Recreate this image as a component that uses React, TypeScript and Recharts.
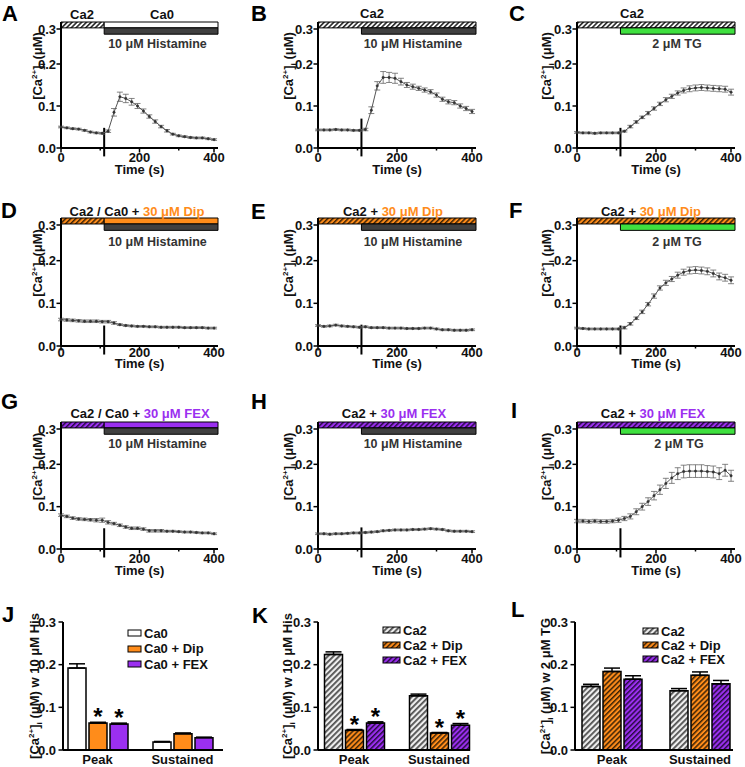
import React from "react";
import {
  LineChart,
  Line,
  BarChart,
  Bar,
  XAxis,
  YAxis,
  ErrorBar,
  ReferenceArea,
  ReferenceLine,
  Label,
  LabelList,
  Legend,
} from "recharts";

const FONT = "'Liberation Sans', Arial, Helvetica, sans-serif";

// sampling times (s) for the traces
const TIME = [0, 15, 30, 45, 60, 75, 90, 105, 120, 135, 150, 165, 180, 195, 210, 225, 240, 255, 270, 285, 300, 315, 330, 345, 360, 375, 390];
const STIM_ON = 110;
const T_MAX = 400;
const X_TICKS = [0, 100, 200, 300, 400];
const Y_TICKS_LINE = [0, 0.05, 0.1, 0.15, 0.2, 0.25, 0.3];
const Y_TICKS_BAR = [0, 0.1, 0.2, 0.3];

// [Ca2+]i traces (uM) and SEM
const A_CA = [0.05, 0.048, 0.046, 0.045, 0.042, 0.038, 0.036, 0.035, 0.04, 0.085, 0.122, 0.118, 0.11, 0.1, 0.088, 0.075, 0.063, 0.051, 0.041, 0.033, 0.029, 0.027, 0.025, 0.024, 0.024, 0.022, 0.02];
const A_SEM = [0.002, 0.002, 0.002, 0.002, 0.002, 0.002, 0.002, 0.002, 0.003, 0.009, 0.011, 0.01, 0.008, 0.006, 0.005, 0.004, 0.004, 0.003, 0.003, 0.002, 0.002, 0.002, 0.002, 0.002, 0.002, 0.002, 0.002];
const B_CA = [0.043, 0.043, 0.043, 0.044, 0.043, 0.043, 0.042, 0.042, 0.044, 0.09, 0.148, 0.168, 0.168, 0.166, 0.158, 0.15, 0.146, 0.142, 0.138, 0.134, 0.126, 0.116, 0.11, 0.108, 0.1, 0.094, 0.087];
const B_SEM = [0.002, 0.002, 0.002, 0.002, 0.002, 0.002, 0.002, 0.002, 0.003, 0.008, 0.01, 0.014, 0.012, 0.012, 0.008, 0.006, 0.006, 0.005, 0.005, 0.005, 0.005, 0.005, 0.005, 0.005, 0.005, 0.005, 0.005];
const C_CA = [0.037, 0.036, 0.036, 0.035, 0.036, 0.036, 0.036, 0.036, 0.04, 0.051, 0.062, 0.073, 0.083, 0.094, 0.105, 0.115, 0.123, 0.131, 0.137, 0.141, 0.143, 0.144, 0.143, 0.142, 0.141, 0.14, 0.133];
const C_SEM = [0.002, 0.002, 0.002, 0.002, 0.002, 0.002, 0.002, 0.002, 0.002, 0.003, 0.003, 0.003, 0.004, 0.004, 0.004, 0.005, 0.005, 0.005, 0.006, 0.007, 0.007, 0.007, 0.007, 0.007, 0.007, 0.007, 0.007];
const D_CA = [0.062, 0.061, 0.06, 0.059, 0.058, 0.058, 0.058, 0.057, 0.057, 0.054, 0.05, 0.048, 0.047, 0.046, 0.046, 0.045, 0.045, 0.044, 0.044, 0.044, 0.044, 0.043, 0.043, 0.043, 0.043, 0.042, 0.042];
const D_SEM = [0.003, 0.003, 0.003, 0.003, 0.003, 0.003, 0.003, 0.003, 0.003, 0.003, 0.002, 0.002, 0.002, 0.002, 0.002, 0.002, 0.002, 0.002, 0.002, 0.002, 0.002, 0.002, 0.002, 0.002, 0.002, 0.002, 0.002];
const E_CA = [0.048, 0.046, 0.047, 0.049, 0.047, 0.046, 0.045, 0.044, 0.045, 0.043, 0.043, 0.043, 0.042, 0.042, 0.042, 0.041, 0.041, 0.041, 0.042, 0.042, 0.04, 0.038, 0.038, 0.037, 0.037, 0.037, 0.038];
const E_SEM = [0.002, 0.002, 0.002, 0.002, 0.002, 0.002, 0.002, 0.002, 0.002, 0.002, 0.002, 0.002, 0.002, 0.002, 0.002, 0.002, 0.002, 0.002, 0.002, 0.002, 0.002, 0.002, 0.002, 0.002, 0.002, 0.002, 0.002];
const F_CA = [0.042, 0.041, 0.04, 0.04, 0.04, 0.04, 0.04, 0.04, 0.043, 0.052, 0.065, 0.08, 0.098, 0.117, 0.136, 0.148, 0.157, 0.166, 0.173, 0.177, 0.178, 0.177, 0.175, 0.17, 0.163, 0.16, 0.154];
const F_SEM = [0.002, 0.002, 0.002, 0.002, 0.002, 0.002, 0.002, 0.002, 0.003, 0.003, 0.003, 0.004, 0.004, 0.005, 0.005, 0.006, 0.006, 0.007, 0.007, 0.008, 0.008, 0.008, 0.008, 0.008, 0.008, 0.008, 0.008];
const G_CA = [0.08, 0.077, 0.073, 0.071, 0.07, 0.069, 0.068, 0.068, 0.063, 0.06, 0.056, 0.052, 0.049, 0.049, 0.047, 0.043, 0.043, 0.043, 0.042, 0.042, 0.041, 0.04, 0.04, 0.039, 0.038, 0.038, 0.036];
const G_SEM = [0.003, 0.003, 0.003, 0.003, 0.003, 0.003, 0.004, 0.005, 0.004, 0.003, 0.003, 0.003, 0.003, 0.003, 0.003, 0.003, 0.003, 0.003, 0.002, 0.002, 0.002, 0.002, 0.002, 0.002, 0.002, 0.002, 0.002];
const H_CA = [0.036, 0.036, 0.035, 0.036, 0.036, 0.037, 0.038, 0.038, 0.039, 0.04, 0.041, 0.043, 0.044, 0.045, 0.045, 0.045, 0.046, 0.046, 0.047, 0.048, 0.047, 0.046, 0.043, 0.042, 0.042, 0.042, 0.041];
const H_SEM = [0.002, 0.002, 0.002, 0.002, 0.002, 0.002, 0.002, 0.002, 0.002, 0.002, 0.002, 0.002, 0.002, 0.002, 0.002, 0.002, 0.002, 0.002, 0.002, 0.002, 0.002, 0.002, 0.002, 0.002, 0.002, 0.002, 0.002];
const I_CA = [0.066, 0.066, 0.065, 0.066, 0.065, 0.065, 0.066, 0.068, 0.072, 0.077, 0.088, 0.1, 0.112, 0.126, 0.14, 0.155, 0.168, 0.178, 0.183, 0.184, 0.184, 0.184, 0.183, 0.182, 0.178, 0.186, 0.173];
const I_SEM = [0.004, 0.004, 0.004, 0.004, 0.004, 0.004, 0.004, 0.005, 0.005, 0.006, 0.007, 0.008, 0.009, 0.01, 0.011, 0.012, 0.013, 0.014, 0.015, 0.015, 0.015, 0.015, 0.014, 0.014, 0.014, 0.014, 0.013];

// summary bars
const BAR_GROUPS = ["Peak", "Sustained"];
const J_CA0 = [0.192, 0.019];
const J_CA0_SEM = [0.01, 0.001];
const J_DIP = [0.063, 0.038];
const J_DIP_SEM = [0.002, 0.002];
const J_FEX = [0.061, 0.029];
const J_FEX_SEM = [0.002, 0.001];
const K_CA2 = [0.224, 0.127];
const K_CA2_SEM = [0.006, 0.004];
const K_DIP = [0.046, 0.04];
const K_DIP_SEM = [0.002, 0.001];
const K_FEX = [0.063, 0.058];
const K_FEX_SEM = [0.003, 0.004];
const L_CA2 = [0.149, 0.139];
const L_CA2_SEM = [0.005, 0.005];
const L_DIP = [0.184, 0.175];
const L_DIP_SEM = [0.008, 0.008];
const L_FEX = [0.166, 0.155];
const L_FEX_SEM = [0.008, 0.008];
const NO_SIG = [false, false];
const J_SIG = [true, false];
const K_SIG = [true, true];

const ORANGE = "#ff8c1a";
const PURPLE = "#9b2ff0";
const GREEN = "#3fe03f";
const HIS_GRAY = "#404040";

// layout of the trace grid
const COL_X = [61, 318, 577];
const COL_W = [157, 158, 158];
const ROW_Y = [22, 218, 422];
const ROW_H = [126, 128, 127];
const LABEL_DX = [19, 25, 26];
const TICK_OFF = [5, 2, 4.5];
const TIME_BASE = [26, 22, 25.5];
const BAR_TOP = 622;
const BAR_H = 128;
const BAR_MT = 16;

const LINE_PANELS = [
  { key: "A", row: 0, col: 0, ca: A_CA, sem: A_SEM, pre: "url(#hCa2)", post: "#ffffff", drug: HIS_GRAY, mark: 0.048 },
  { key: "B", row: 0, col: 1, ca: B_CA, sem: B_SEM, pre: "url(#hCa2)", post: "url(#hCa2)", drug: HIS_GRAY, mark: 0.07 },
  { key: "C", row: 0, col: 2, ca: C_CA, sem: C_SEM, pre: "url(#hCa2)", post: "url(#hCa2)", drug: GREEN, mark: 0.048 },
  { key: "D", row: 1, col: 0, ca: D_CA, sem: D_SEM, pre: "url(#hDip)", post: ORANGE, drug: HIS_GRAY, mark: 0.048 },
  { key: "E", row: 1, col: 1, ca: E_CA, sem: E_SEM, pre: "url(#hDip)", post: "url(#hDip)", drug: HIS_GRAY, mark: 0.05 },
  { key: "F", row: 1, col: 2, ca: F_CA, sem: F_SEM, pre: "url(#hDip)", post: "url(#hDip)", drug: GREEN, mark: 0.048 },
  { key: "G", row: 2, col: 0, ca: G_CA, sem: G_SEM, pre: "url(#hFex)", post: PURPLE, drug: HIS_GRAY, mark: 0.049 },
  { key: "H", row: 2, col: 1, ca: H_CA, sem: H_SEM, pre: "url(#hFex)", post: "url(#hFex)", drug: HIS_GRAY, mark: 0.051 },
  { key: "I", row: 2, col: 2, ca: I_CA, sem: I_SEM, pre: "url(#hFex)", post: "url(#hFex)", drug: GREEN, mark: 0.049 },
];

const BAR_PANELS = [
  {
    key: "J", x: 63, w: 160, padL: -8, padR: -2, dx: 24, suffix: " w 10 μM His",
    legX: 128, legY: 625.5, sw: 13, rowH: 15.5,
    series: [
      { name: "Ca0", vals: J_CA0, sem: J_CA0_SEM, fill: "#ffffff", sig: NO_SIG },
      { name: "Ca0 + Dip", vals: J_DIP, sem: J_DIP_SEM, fill: ORANGE, sig: J_SIG },
      { name: "Ca0 + FEX", vals: J_FEX, sem: J_FEX_SEM, fill: PURPLE, sig: J_SIG },
    ],
  },
  {
    key: "K", x: 318, w: 152, padL: -6.5, padR: -11.5, dx: 26, suffix: " w 10 μM His",
    legX: 383, legY: 622.5, sw: 17, rowH: 15,
    series: [
      { name: "Ca2", vals: K_CA2, sem: K_CA2_SEM, fill: "url(#hCa2Bar)", sig: NO_SIG },
      { name: "Ca2 + Dip", vals: K_DIP, sem: K_DIP_SEM, fill: "url(#hDip)", sig: K_SIG },
      { name: "Ca2 + FEX", vals: K_FEX, sem: K_FEX_SEM, fill: "url(#hFex)", sig: K_SIG },
    ],
  },
  {
    key: "L", x: 575, w: 158, padL: -7, padR: -11, dx: 25, suffix: " w 2 μM TG",
    legX: 643, legY: 624, sw: 15, rowH: 14,
    series: [
      { name: "Ca2", vals: L_CA2, sem: L_CA2_SEM, fill: "url(#hCa2Bar)", sig: NO_SIG },
      { name: "Ca2 + Dip", vals: L_DIP, sem: L_DIP_SEM, fill: "url(#hDip)", sig: NO_SIG },
      { name: "Ca2 + FEX", vals: L_FEX, sem: L_FEX_SEM, fill: "url(#hFex)", sig: NO_SIG },
    ],
  },
];

// text drawn over the grid: panel letters, treatment titles, stimulus labels
const LETTERS = [
  { t: "A", x: 2, y: 21 }, { t: "B", x: 251, y: 21 }, { t: "C", x: 509, y: 21 },
  { t: "D", x: 1, y: 218 }, { t: "E", x: 251, y: 219 }, { t: "F", x: 509, y: 218 },
  { t: "G", x: 1, y: 409 }, { t: "H", x: 251, y: 409 }, { t: "I", x: 511, y: 418 },
  { t: "J", x: 2, y: 622 }, { t: "K", x: 252, y: 623 }, { t: "L", x: 511, y: 617 },
];
const TITLES = [
  { x: 82, y: 18.5, parts: [["Ca2", "#111"]] },
  { x: 162, y: 18.5, parts: [["Ca0", "#111"]] },
  { x: 372, y: 18, parts: [["Ca2", "#111"]] },
  { x: 632, y: 18, parts: [["Ca2", "#111"]] },
  { x: 137, y: 216, parts: [["Ca2 / Ca0 + ", "#111"], ["30 μM Dip", ORANGE]] },
  { x: 393, y: 216, parts: [["Ca2 + ", "#111"], ["30 μM Dip", ORANGE]] },
  { x: 651, y: 216, parts: [["Ca2 + ", "#111"], ["30 μM Dip", ORANGE]] },
  { x: 140, y: 417.5, parts: [["Ca2 / Ca0 + ", "#111"], ["30 μM FEX", PURPLE]] },
  { x: 394, y: 417.5, parts: [["Ca2 + ", "#111"], ["30 μM FEX", PURPLE]] },
  { x: 653, y: 417.5, parts: [["Ca2 + ", "#111"], ["30 μM FEX", PURPLE]] },
];
const STIM_LABELS = [
  { t: "10 μM Histamine", x: 157.5, y: 47.5 }, { t: "10 μM Histamine", x: 413, y: 47.5 }, { t: "2 μM TG", x: 677, y: 47.5 },
  { t: "10 μM Histamine", x: 157.5, y: 246 }, { t: "10 μM Histamine", x: 413, y: 246 }, { t: "2 μM TG", x: 677, y: 246 },
  { t: "10 μM Histamine", x: 157.5, y: 447.5 }, { t: "10 μM Histamine", x: 413, y: 447.5 }, { t: "2 μM TG", x: 679, y: 447.5 },
];

const txt = { fontFamily: FONT, fontWeight: "bold" as const, fontSize: 13, fill: "#111" };

function YTick({ x, y, payload, gap = 5 }: any) {
  const v = payload.value;
  const major = Math.abs(v * 10 - Math.round(v * 10)) < 1e-6;
  const ax = x + gap;
  return (
    <g>
      <line x1={ax} x2={ax - (major ? 4.5 : 2.5)} y1={y} y2={y} stroke="#000" strokeWidth={1.5} />
      {major && (
        <text x={x} y={y} dy="0.36em" textAnchor="end" {...txt}>
          {v.toFixed(1)}
        </text>
      )}
    </g>
  );
}

function XTick({ x, y, payload, off }: any) {
  const v = payload.value;
  const major = v % 200 === 0;
  const ay = y - 4;
  return (
    <g>
      <line x1={x} x2={x} y1={ay} y2={ay + (major ? 4.5 : 2.5)} stroke="#000" strokeWidth={1.5} />
      {major && (
        <text x={x} y={ay + off} dy="0.71em" textAnchor="middle" {...txt}>
          {v}
        </text>
      )}
    </g>
  );
}

function CaLabel({ viewBox, dx, dy, suffix }: any) {
  const cx = viewBox.x + viewBox.width - dx;
  const cy = viewBox.y + viewBox.height / 2 + dy;
  return (
    <text x={cx} y={cy} transform={`rotate(-90 ${cx} ${cy})`} textAnchor="middle" {...txt}>
      <tspan>[Ca</tspan>
      <tspan fontSize={8} dy={-5}>2+</tspan>
      <tspan dy={5}>]</tspan>
      <tspan fontSize={8} dy={3}>i</tspan>
      <tspan dy={-3} style={{ whiteSpace: "pre" }}>{` (μM)${suffix}`}</tspan>
    </text>
  );
}

function TimeLabel({ viewBox }: any) {
  return (
    <text x={viewBox.x + viewBox.width / 2} y={viewBox.y + viewBox.height} textAnchor="middle" {...txt}>
      Time (s)
    </text>
  );
}

function LinePanel({ p }: any) {
  const left = COL_X[p.col];
  const w = COL_W[p.col];
  const top = ROW_Y[p.row];
  const h = ROW_H[p.row];
  const xh = TIME_BASE[p.row];
  const data = TIME.map((t, i) => ({ t, v: p.ca[i], e: p.sem[i] }));
  const split = p.pre !== p.post;
  return (
    <div style={{ position: "absolute", left: left - 60, top: top - 2 }}>
      <LineChart width={60 + w + 8} height={2 + h + xh + 4} data={data} margin={{ top: 2, right: 8, bottom: 4, left: 0 }}>
        <XAxis
          dataKey="t"
          type="number"
          domain={[0, T_MAX]}
          ticks={X_TICKS}
          height={xh}
          tickLine={false}
          tickSize={4}
          tickMargin={0}
          axisLine={{ stroke: "#000", strokeWidth: 2 }}
          tick={(tp: any) => <XTick {...tp} off={TICK_OFF[p.row]} />}
        >
          <Label content={(lp: any) => <TimeLabel {...lp} />} />
        </XAxis>
        <YAxis
          type="number"
          domain={[0, 0.3]}
          ticks={Y_TICKS_LINE}
          width={60}
          tickLine={false}
          tickSize={4}
          tickMargin={1}
          axisLine={{ stroke: "#000", strokeWidth: 2 }}
          tick={(tp: any) => <YTick {...tp} gap={5} />}
        >
          <Label content={(lp: any) => <CaLabel {...lp} dx={LABEL_DX[p.col]} dy={-19} suffix="" />} />
        </YAxis>
        {split ? (
          <ReferenceArea x1={0} x2={STIM_ON} y1={0.286} y2={0.3} fill={p.pre} fillOpacity={1} stroke="#000" strokeWidth={1} />
        ) : null}
        <ReferenceArea
          x1={split ? STIM_ON : 0}
          x2={T_MAX}
          y1={0.286}
          y2={0.3}
          fill={p.post}
          fillOpacity={1}
          stroke="#000"
          strokeWidth={1}
        />
        <ReferenceArea x1={STIM_ON} x2={T_MAX} y1={0.271} y2={0.286} fill={p.drug} fillOpacity={1} stroke="#000" strokeWidth={1} />
        <ReferenceLine
          segment={[{ x: STIM_ON, y: -0.02 }, { x: STIM_ON, y: p.mark }]}
          stroke="#000"
          strokeWidth={2}
          ifOverflow="visible"
        />
        <Line
          dataKey="v"
          type="linear"
          stroke="#555"
          strokeWidth={1}
          dot={{ r: 1.2, fill: "#333", stroke: "#333", strokeWidth: 0.5 }}
          isAnimationActive={false}
        >
          <ErrorBar dataKey="e" width={3} stroke="#666" strokeWidth={0.8} isAnimationActive={false} />
        </Line>
      </LineChart>
    </div>
  );
}

function Star({ x, y, width, height, index, s }: any) {
  if (!s.sig[index]) return null;
  const errPx = (s.sem[index] / s.vals[index]) * Number(height);
  return (
    <text x={Number(x) + Number(width) / 2} y={Number(y) - errPx + 3} textAnchor="middle" fontFamily={FONT} fontWeight="bold" fontSize={24} fill="#000">
      *
    </text>
  );
}

function BarLegend({ payload, sw, rowH }: any) {
  return (
    <div style={{ fontFamily: FONT, fontWeight: "bold", fontSize: 13, color: "#111" }}>
      {(payload || []).map((e: any) => (
        <div key={e.value} style={{ display: "flex", alignItems: "center", height: rowH, whiteSpace: "nowrap" }}>
          <svg width={sw + 2} height={8} style={{ marginRight: 2 }}>
            <rect x={1} y={1} width={sw} height={6} fill={e.color} stroke="#000" strokeWidth={1} />
          </svg>
          <span>{e.value}</span>
        </div>
      ))}
    </div>
  );
}

function BarPanel({ p }: any) {
  const rows = BAR_GROUPS.map((name, i) => {
    const r: any = { name };
    p.series.forEach((s: any, k: number) => {
      r[`s${k}`] = s.vals[i];
      r[`e${k}`] = [0, s.sem[i]];
    });
    return r;
  });
  const left = p.x - 60;
  const top = BAR_TOP - BAR_MT;
  return (
    <div style={{ position: "absolute", left, top }}>
      <BarChart
        width={60 + p.w + 4}
        height={BAR_MT + BAR_H + 22}
        data={rows}
        margin={{ top: BAR_MT, right: 4, bottom: 0, left: 0 }}
        barSize={18}
        barGap={3}
      >
        <XAxis
          dataKey="name"
          height={22}
          tickLine={false}
          tickSize={4}
          tickMargin={0.5}
          padding={{ left: p.padL, right: p.padR }}
          axisLine={{ stroke: "#000", strokeWidth: 2 }}
          tick={{ ...txt }}
        />
        <YAxis
          type="number"
          domain={[0, 0.3]}
          ticks={Y_TICKS_BAR}
          width={60}
          tickLine={false}
          tickSize={5}
          tickMargin={2}
          axisLine={{ stroke: "#000", strokeWidth: 2 }}
          tick={(tp: any) => <YTick {...tp} gap={7} />}
        >
          <Label content={(lp: any) => <CaLabel {...lp} dx={p.dx} dy={0} suffix={p.suffix} />} />
        </YAxis>
        <Legend
          layout="vertical"
          align="center"
          verticalAlign="middle"
          wrapperStyle={{ left: p.legX - left - 1, top: p.legY - top, width: "auto" }}
          content={(lp: any) => <BarLegend payload={lp.payload} sw={p.sw} rowH={p.rowH} />}
        />
        {p.series.map((s: any, k: number) => (
          <Bar key={s.name} dataKey={`s${k}`} name={s.name} fill={s.fill} stroke="#000" strokeWidth={1.5} isAnimationActive={false}>
            <ErrorBar dataKey={`e${k}`} width={8} stroke="#000" strokeWidth={1.5} isAnimationActive={false} />
            <LabelList dataKey={`s${k}`} content={(lp: any) => <Star {...lp} s={s} />} />
          </Bar>
        ))}
      </BarChart>
    </div>
  );
}

export default function App() {
  return (
    <div style={{ position: "absolute", left: 0, top: 0, width: 745, height: 767, overflow: "hidden", background: "#fff" }}>
      <svg width={0} height={0} style={{ position: "absolute" }}>
        <defs>
          <pattern id="hCa2" width="3.4" height="3.4" patternUnits="userSpaceOnUse" patternTransform="rotate(45)">
            <rect width="3.4" height="3.4" fill="#ffffff" />
            <rect width="1.6" height="3.4" fill="#2a2a2a" />
          </pattern>
          <pattern id="hCa2Bar" width="4" height="4" patternUnits="userSpaceOnUse" patternTransform="rotate(45)">
            <rect width="4" height="4" fill="#eeeeee" />
            <rect width="1.8" height="4" fill="#505050" />
          </pattern>
          <pattern id="hDip" width="3.6" height="3.6" patternUnits="userSpaceOnUse" patternTransform="rotate(45)">
            <rect width="3.6" height="3.6" fill={ORANGE} />
            <rect width="1.5" height="3.6" fill="#3d2306" />
          </pattern>
          <pattern id="hFex" width="3.6" height="3.6" patternUnits="userSpaceOnUse" patternTransform="rotate(45)">
            <rect width="3.6" height="3.6" fill={PURPLE} />
            <rect width="1.5" height="3.6" fill="#2a0b46" />
          </pattern>
        </defs>
      </svg>
      {LINE_PANELS.map((p) => (
        <LinePanel key={p.key} p={p} />
      ))}
      {BAR_PANELS.map((p) => (
        <BarPanel key={p.key} p={p} />
      ))}
      <svg width={745} height={767} style={{ position: "absolute", left: 0, top: 0, pointerEvents: "none" }}>
        {LETTERS.map((l) => (
          <text key={l.t} x={l.x} y={l.y} fontFamily={FONT} fontWeight="bold" fontSize={22} fill="#000">
            {l.t}
          </text>
        ))}
        {TITLES.map((tl, i) => (
          <text key={i} x={tl.x} y={tl.y} textAnchor="middle" style={{ whiteSpace: "pre" }} {...txt}>
            {tl.parts.map(([t, c], j) => (
              <tspan key={j} fill={c}>
                {t}
              </tspan>
            ))}
          </text>
        ))}
        {STIM_LABELS.map((s, i) => (
          <text key={i} x={s.x} y={s.y} textAnchor="middle" {...txt} fontSize={12.5} fill="#333">
            {s.t}
          </text>
        ))}
      </svg>
    </div>
  );
}
